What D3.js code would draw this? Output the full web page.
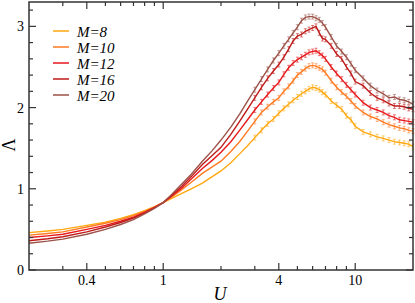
<!DOCTYPE html>
<html>
<head>
<meta charset="utf-8">
<title>Lambda vs U</title>
<script src="https://cdn.jsdelivr.net/npm/d3@7"></script>
<style>
  body { margin: 0; background: #fff; }
</style>
</head>
<body>
<svg width="415" height="303"></svg>
<script>
// data
var U = [0.2,0.25,0.3,0.4,0.5,0.6,0.7,0.8,0.9,1,1.1,1.25,1.4,1.6,1.8,2,2.25,2.5,2.75,3,3.25,3.5,3.75,4,4.25,4.5,4.75,5,5.25,5.5,5.75,6,6.25,6.5,6.75,7,7.5,8,8.5,9,9.5,10,11,12,13,14,15,16,17,18,19,20];
var M8  = [0.46,0.48,0.50,0.55,0.59,0.635,0.68,0.73,0.78,0.83,0.88,0.945,1.00,1.07,1.15,1.22,1.32,1.43,1.53,1.63,1.72,1.80,1.86,1.93,1.99,2.04,2.09,2.13,2.17,2.20,2.23,2.25,2.24,2.22,2.19,2.16,2.08,2.03,1.98,1.90,1.85,1.77,1.70,1.67,1.64,1.62,1.60,1.58,1.57,1.56,1.55,1.52];
var M10 = [0.43,0.45,0.47,0.53,0.575,0.62,0.67,0.72,0.775,0.83,0.895,0.99,1.08,1.19,1.27,1.34,1.46,1.58,1.71,1.83,1.94,2.01,2.07,2.12,2.20,2.26,2.33,2.40,2.44,2.48,2.51,2.52,2.51,2.49,2.47,2.43,2.33,2.25,2.19,2.14,2.08,2.02,1.94,1.89,1.86,1.82,1.79,1.77,1.75,1.74,1.72,1.71];
var M12 = [0.40,0.42,0.44,0.50,0.55,0.60,0.65,0.71,0.77,0.83,0.905,1.01,1.12,1.25,1.35,1.45,1.58,1.72,1.85,1.97,2.07,2.16,2.24,2.31,2.41,2.49,2.55,2.59,2.62,2.65,2.68,2.69,2.70,2.67,2.64,2.60,2.50,2.42,2.35,2.28,2.22,2.16,2.06,2.00,1.97,1.94,1.90,1.88,1.85,1.84,1.83,1.82];
var M16 = [0.36,0.385,0.41,0.47,0.53,0.585,0.64,0.70,0.765,0.83,0.915,1.03,1.15,1.30,1.41,1.51,1.67,1.83,1.98,2.12,2.25,2.36,2.45,2.53,2.62,2.72,2.82,2.88,2.90,2.94,2.96,2.98,3.00,2.92,2.85,2.84,2.76,2.66,2.60,2.50,2.42,2.32,2.27,2.18,2.12,2.09,2.05,2.02,2.02,2.01,1.99,1.98];
var M20 = [0.33,0.355,0.38,0.44,0.50,0.56,0.62,0.69,0.76,0.83,0.925,1.06,1.18,1.34,1.47,1.60,1.76,1.92,2.08,2.22,2.35,2.47,2.58,2.67,2.76,2.84,2.92,2.99,3.07,3.11,3.12,3.12,3.10,3.08,3.04,2.99,2.87,2.76,2.69,2.62,2.54,2.46,2.36,2.27,2.21,2.17,2.12,2.13,2.10,2.09,2.07,2.04];
var seriesNames = ["M=8","M=10","M=12","M=16","M=20"];
var seriesValues = [M8, M10, M12, M16, M20];
var colors = ["#ffa80f","#ff7a22","#e6191c","#bf1a1a","#9c5249"];
var xMajor = [0.4, 1, 4, 10];
var xMinor = [0.3,0.5,0.6,0.7,0.8,0.9,2,3,5,6,7,8,9];
var yMajor = [0, 1, 2, 3];

var serif = "'Liberation Serif', 'Times New Roman', serif";

var svg = d3.select("svg");
var marge = {top: 2, right: 2, bottom: 33, left: 29};
var W = 415 - marge.left - marge.right;
var H = 303 - marge.top - marge.bottom;
var g = svg.append("g").attr("transform", "translate(" + marge.left + "," + marge.top + ")");

var x = d3.scaleLog().domain([0.2, 20]).range([0, W]);
var y = d3.scaleLinear().domain([0, 3.3]).range([H, 0]);
var yMinor = d3.range(0.2, 3.3, 0.2).filter(function(v){ return Math.abs(v - Math.round(v)) > 0.01; });

// curves
var line = d3.line()
  .x(function(d){ return x(d[0]); })
  .y(function(d){ return y(d[1]); });

seriesValues.forEach(function(vals, i){
  var pts = U.map(function(u, j){ return [u, vals[j]]; });
  g.append("path")
    .datum(pts)
    .attr("fill", "none")
    .attr("stroke", colors[i])
    .attr("stroke-width", 1.4)
    .attr("d", line);
  // small error bars at the data points
  g.selectAll(null)
    .data(pts.filter(function(p){ return p[0] >= 3; }))
    .enter().append("path")
    .attr("fill", "none")
    .attr("stroke", colors[i])
    .attr("stroke-opacity", 0.55)
    .attr("stroke-width", 1)
    .attr("d", function(p){
      var cx = x(p[0]), cy = y(p[1]);
      return "M" + (cx-1.5) + "," + (cy-2.5) + "H" + (cx+1.5) +
             "M" + cx + "," + (cy-2.5) + "V" + (cy+2.5) +
             "M" + (cx-1.5) + "," + (cy+2.5) + "H" + (cx+1.5);
    });
});

// frame and ticks (inward, on all four sides)
var axisColor = "#333";
g.append("rect").attr("width", W).attr("height", H)
  .attr("fill", "none").attr("stroke", axisColor).attr("stroke-width", 1.5);

function xt(vals, len){
  vals.forEach(function(v){
    var px = x(v);
    g.append("line").attr("x1", px).attr("x2", px).attr("y1", H).attr("y2", H - len)
      .attr("stroke", axisColor).attr("stroke-width", 1.2);
    g.append("line").attr("x1", px).attr("x2", px).attr("y1", 0).attr("y2", len)
      .attr("stroke", axisColor).attr("stroke-width", 1.2);
  });
}
function yt(vals, len){
  vals.forEach(function(v){
    var py = y(v);
    g.append("line").attr("y1", py).attr("y2", py).attr("x1", 0).attr("x2", len)
      .attr("stroke", axisColor).attr("stroke-width", 1.2);
    g.append("line").attr("y1", py).attr("y2", py).attr("x1", W).attr("x2", W - len)
      .attr("stroke", axisColor).attr("stroke-width", 1.2);
  });
}
xt(xMajor, 7); xt(xMinor, 4);
yt(yMajor, 7); yt(yMinor, 4);

g.selectAll(".xl").data(xMajor).enter().append("text")
  .attr("x", function(d){ return x(d); })
  .attr("y", H + 15)
  .attr("text-anchor", "middle")
  .attr("font-family", serif)
  .attr("font-size", 14)
  .text(function(d){ return d; });

g.selectAll(".yl").data(yMajor).enter().append("text")
  .attr("x", -5)
  .attr("y", function(d){ return y(d) + 5; })
  .attr("text-anchor", "end")
  .attr("font-family", serif)
  .attr("font-size", 14)
  .text(function(d){ return d; });

// axis titles
svg.append("text")
  .attr("x", 220).attr("y", 300)
  .attr("text-anchor", "middle")
  .attr("font-family", serif)
  .attr("font-size", 18).attr("font-style", "italic")
  .text("U");
svg.append("text")
  .attr("transform", "translate(15,145) rotate(-90)")
  .attr("text-anchor", "middle")
  .attr("font-family", serif)
  .attr("font-size", 18)
  .text("Λ");

// legend
var leg = svg.selectAll(".leg").data(seriesNames).enter().append("g")
  .attr("transform", function(d, i){ return "translate(53," + (31 + i * 16) + ")"; });
leg.append("line").attr("x1", 0).attr("x2", 16)
  .attr("stroke", function(d, i){ return colors[i]; }).attr("stroke-width", 1.5);
leg.append("text").attr("x", 24).attr("y", 5.5)
  .attr("font-family", serif)
  .attr("font-size", 15).attr("font-style", "italic")
  .text(function(d){ return d; });
</script>
</body>
</html>
